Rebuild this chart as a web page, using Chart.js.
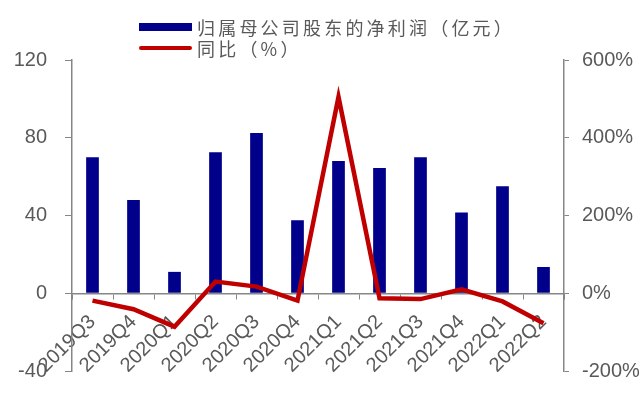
<!DOCTYPE html>
<html>
<head>
<meta charset="utf-8">
<script src="https://cdn.jsdelivr.net/npm/chart.js@4"></script>
<style>
  html, body { margin: 0; padding: 0; background: #fff; }
  #wrap { position: relative; width: 642px; height: 406px; }
  #legend { position: absolute; left: 139px; top: 16px; font-family: "Noto Sans CJK SC", sans-serif; font-size: 18px; color: #595959; letter-spacing: 3.2px; }
  .item { display: flex; align-items: center; height: 21px; white-space: nowrap; }
  .sw { width: 53px; margin-right: 5px; flex: none; }
</style>
</head>
<body>
<div id="wrap">
  <canvas id="c" width="642" height="406"></canvas>
  <div id="legend"></div>
</div>
<script>
const quarters = ['2019Q3', '2019Q4', '2020Q1', '2020Q2', '2020Q3', '2020Q4', '2021Q1', '2021Q2', '2021Q3', '2021Q4', '2022Q1', '2022Q2'];
const profit = [70, 48, 11, 72.5, 82.5, 37.5, 68, 64.5, 70, 41.5, 55, 13.5];
const yoy = [-19, -41, -86, 30, 17, -19, 505, -13, -15, 10, -21, -77];
const leftTicks = [-40, 0, 40, 80, 120];
const rightTicks = [-200, 0, 200, 400, 600];

const axisGrey = '#868686';
const textGrey = '#595959';
const tickFont = { family: 'Liberation Sans, Arial', size: 20 };

const ctx = document.getElementById('c').getContext('2d');
const chart = new Chart(ctx, {
  data: {
    labels: quarters,
    datasets: [
      {
        type: 'line',
        label: '同比（%）',
        data: yoy,
        yAxisID: 'y1',
        borderColor: '#C00000',
        backgroundColor: '#C00000',
        borderWidth: 4.5,
        pointRadius: 0,
        tension: 0,
        order: 0
      },
      {
        type: 'bar',
        label: '归属母公司股东的净利润（亿元）',
        data: profit,
        yAxisID: 'y',
        backgroundColor: '#00008B',
        barPercentage: 0.31,
        categoryPercentage: 1,
        order: 1
      }
    ]
  },
  options: {
    responsive: false,
    animation: false,
    layout: { padding: { top: 60, bottom: 35, left: 0, right: 0 } },
    plugins: { legend: { display: false }, tooltip: { enabled: false } },
    scales: {
      x: {
        position: { y: 0 },
        offset: true,
        grid: { offset: true, drawOnChartArea: false, tickLength: 5, color: axisGrey },
        border: { color: axisGrey, width: 1.5 },
        ticks: { font: tickFont, color: textGrey, minRotation: 45, maxRotation: 45, autoSkip: false, padding: 12 },
        afterFit: (s) => { s.height = 0; }
      },
      y: {
        position: 'left',
        min: leftTicks[0],
        max: leftTicks[leftTicks.length - 1],
        afterBuildTicks: (s) => { s.ticks = leftTicks.map(v => ({ value: v })); },
        grid: { drawOnChartArea: false, tickLength: 7, color: axisGrey },
        border: { color: axisGrey, width: 1.5 },
        ticks: { font: tickFont, color: textGrey, padding: 18 },
        afterFit: (s) => { s.width = 72; }
      },
      y1: {
        position: 'right',
        min: rightTicks[0],
        max: rightTicks[rightTicks.length - 1],
        afterBuildTicks: (s) => { s.ticks = rightTicks.map(v => ({ value: v })); },
        grid: { drawOnChartArea: false, tickLength: 5, color: axisGrey },
        border: { color: axisGrey, width: 1.5 },
        ticks: { font: tickFont, color: textGrey, padding: 13, callback: (v) => v + '%' },
        afterFit: (s) => { s.width = 78; }
      }
    }
  }
});

// legend: bar first, line second, stacked in two rows
const legend = document.getElementById('legend');
[chart.data.datasets[1], chart.data.datasets[0]].forEach(ds => {
  const row = document.createElement('div');
  row.className = 'item';
  const sw = document.createElement('span');
  sw.className = 'sw';
  sw.style.background = ds.backgroundColor;
  if (ds.type === 'bar') {
    sw.style.height = '8px';
  } else {
    sw.style.height = '4px';
    sw.style.borderRadius = '2px';
  }
  const txt = document.createElement('span');
  txt.textContent = ds.label;
  row.appendChild(sw);
  row.appendChild(txt);
  legend.appendChild(row);
});
</script>
</body>
</html>
